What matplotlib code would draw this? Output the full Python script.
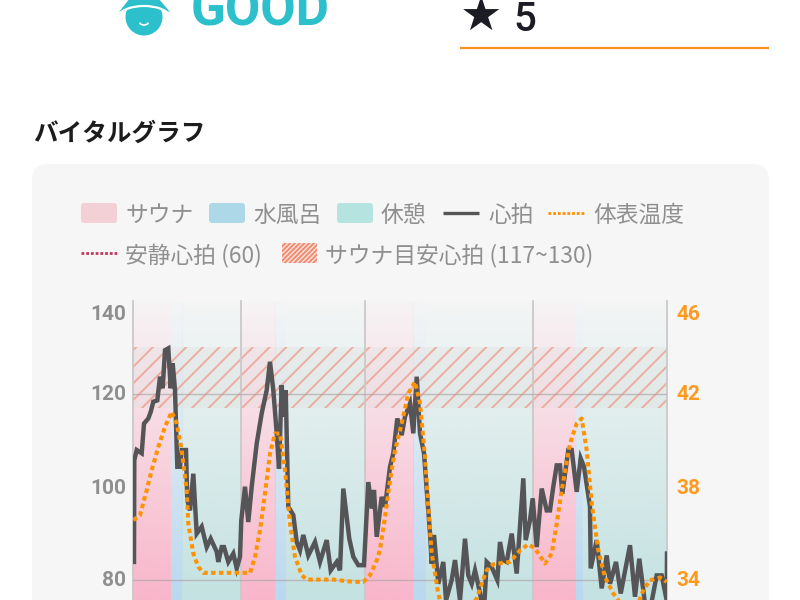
import numpy as np
import matplotlib
matplotlib.use('Agg')
import matplotlib.pyplot as plt
from matplotlib.colors import LinearSegmentedColormap
from matplotlib.patches import FancyBboxPatch, Rectangle, Circle, Polygon, Arc

plt.rcParams['font.family'] = ['Noto Sans CJK JP', 'DejaVu Sans']
plt.rcParams['hatch.linewidth'] = 1.4

# (time, bpm)
hr = [(1, 83.8), (1.3, 105.7), (3.7, 107.9), (8.7, 107.2), (11, 113.6), (15.3, 114.7), (17.7, 116.1), (20.3, 118.3), (24.3, 118.6),
      (27, 123.7), (29.7, 121.2), (32, 129.4), (35.3, 129.8), (37.7, 121.2), (39.7, 126.6), (42, 120.8), (44.3, 104.3), (47, 104.3),
      (48.7, 107.9), (53, 107.9), (54.3, 97.1), (57, 94.9), (60.3, 102.8), (63.7, 89.9), (68.7, 91.4), (73.7, 87), (77.7, 88.8),
      (83.7, 86), (85.3, 83.8), (88.7, 87), (91, 87), (95.3, 83.8), (100.3, 85.6), (103.7, 82.4), (107, 84.9),
      (108.3, 92.8), (112, 100), (115.3, 92.4), (118.7, 100), (123.7, 109.3), (128.7, 115.8), (133.7, 120.8), (137, 126.9),
      (140.3, 120.8), (143.7, 111.5), (146, 103.9), (148.7, 121.9), (150.3, 115.1), (152.7, 120.8), (155.3, 95.7), (160.3, 93.9),
      (163.7, 88.1), (167, 86.3), (170.3, 89.6), (175.3, 85.2), (182, 88.1), (187, 83.8), (193.7, 88.5), (197.7, 82), (203.7, 83.8),
      (207, 82), (210.3, 99.6), (213.7, 93.5), (216.3, 88.8), (220.3, 84.9), (225.3, 83.1), (231, 83.1),
      (235.3, 101), (238.7, 95.3), (241, 99.3), (243.7, 89.2), (248.7, 97.8), (252, 95.7), (257, 104.3), (260.3, 107.2),
      (264.3, 114.7), (268.7, 111.1), (272, 115.1), (277, 117.9), (280.3, 111.5), (283.7, 123.7), (287, 111.5), (291, 107.2),
      (293.7, 99.3), (297, 89.9), (298.7, 83.4), (301, 89.6), (305.3, 79.1), (310.3, 83.8), (313, 75.5), (318.7, 79.9), (322, 84.2),
      (327, 75.5), (332, 88.8), (335.3, 80.9), (338.7, 79.1), (342, 82), (345.3, 78.8), (348.7, 75.2), (351, 73.4), (353.7, 83.8),
      (358.7, 82.7), (364.3, 79.9), (367, 88.1), (370.3, 84.2), (373.7, 83.8), (378.7, 89.9), (383.7, 81.3), (390.3, 101.8),
      (392.7, 88.5), (397, 92.8), (399.7, 97.5), (403.7, 87), (408.7, 99.6), (413.7, 94.9), (417, 94.9), (420.3, 100), (423.7, 104.6),
      (427, 104.6), (429.3, 98.5), (435.3, 107.9), (438.7, 107.9), (443.7, 98.9), (447.7, 106.1), (451, 104.3), (457, 95.7),
      (457.7, 82.4), (463.7, 88.5), (468.7, 78.1), (473.7, 85.2), (477, 79.1), (483, 83.8), (487.7, 77), (497, 87.4), (502, 76.3),
      (506.3, 84.5), (512, 74.8), (517, 73.4), (523.7, 80.9), (528.7, 80.9), (533.7, 75.5), (534, 85.6)]

# (time, deg C)
temp = [(0.3, 36.56), (7, 36.77), (13.7, 37.85), (18.7, 38.71), (25.3, 39.72), (32, 40.58), (38.7, 41.23), (43.7, 40.72), (48.7, 39.57),
        (53.7, 37.85), (55.3, 36.41), (60.3, 35.12), (65.3, 34.55), (70.3, 34.29), (80.3, 34.29), (117, 34.29), (122, 34.98), (127, 36.13),
        (132, 37.71), (137, 39.43), (142, 40.29), (147, 40.29), (152, 38.71), (157, 36.41), (162, 34.98), (168.7, 34.19), (173.7, 34),
        (200.3, 34), (220.3, 33.9), (230.3, 33.9), (237, 34.19), (243.7, 34.83), (247, 35.3), (252, 36.7), (257, 38.28), (262, 39.57),
        (268.7, 40.72), (275.3, 42.02), (282, 42.52), (287, 41.59), (292, 39.29), (295.3, 37.13), (298.7, 35.12), (305.3, 33.4), (308.7, 32.8),
        (337, 32.8), (343.7, 33.18), (348.7, 33.83), (353.7, 34.4), (360.3, 34.66), (377, 34.76), (387, 35.26), (395.3, 35.52), (402, 35.34),
        (412, 34.69), (418.7, 35.12), (423.7, 36.41), (428.7, 37.85), (437, 39.86), (443.7, 40.72), (448.7, 40.94), (453.7, 39.57), (458.7, 37.28),
        (465.3, 35.26), (472, 34.11), (480.3, 33.4), (490.3, 32.8), (503.7, 32.8), (510.3, 33.54), (517, 33.97), (527, 34.09), (533.7, 33.9)]

# session boundaries
bounds = [0, 107.5, 231.5, 400, 534]
sauna = [(0, 37.5), (107.5, 142), (231.5, 280), (400, 443)]
water = [(37.5, 49), (142, 153), (280, 293), (443, 450)]
rest = [(49, 107.5), (153, 231.5), (293, 400), (450, 534)]
left_ticks = ['140', '120', '100', '80']
right_ticks = ['46', '42', '38', '34']
tick_pos = [314, 395, 488, 581]

fig = plt.figure(figsize=(8, 6), dpi=100)
bg = fig.add_axes([0, 0, 1, 1])
bg.set_xlim(0, 800)
bg.set_ylim(600, 0)
bg.axis('off')

# card
bg.add_patch(FancyBboxPatch((46, 178), 709, 500, boxstyle='round,pad=14,rounding_size=16', fc='#f6f6f6', ec='none'))

# head part
teal = '#2bc0cb'
bg.add_patch(Circle((144, 17), 18.5, fc=teal, ec='none'))
bg.add_patch(Polygon([[130, -2], [158, -2], [170, 12], [144, 5], [119, 12]], fc=teal, ec='none'))
bg.add_patch(Arc((144, 19), 54, 26, theta1=190, theta2=350, color='white', lw=1.6))
bg.add_patch(Arc((144, 21), 10, 8, theta1=20, theta2=160, color='white', lw=1.2))
bg.text(191, 25, 'GOOD', color=teal, fontsize=37, fontweight='bold', family=['Roboto'], va='baseline')
bg.text(460, 31, '★', color='#1c1c24', fontsize=34, family=['DejaVu Sans'], va='baseline')
bg.text(513, 31, '5', color='#1c1c24', fontsize=29, family=['Roboto'], fontweight='medium', va='baseline')
bg.plot([460, 769], [48, 48], color='#ff8f1f', lw=1.6, solid_capstyle='butt')
bg.text(33, 141, 'バイタルグラフ', color='#1c1c1c', fontsize=17.7, fontweight='bold', va='baseline')

# legend row by row
grey = '#8f8f8f'
lf = 16.4
bg.add_patch(FancyBboxPatch((83, 205), 32, 16, boxstyle='round,pad=2,rounding_size=3', fc='#f3d0d6', ec='none'))
bg.text(125, 222, 'サウナ', color=grey, fontsize=lf, va='baseline')
bg.add_patch(FancyBboxPatch((211, 205), 32, 16, boxstyle='round,pad=2,rounding_size=3', fc='#add8e8', ec='none'))
bg.text(253, 222, '水風呂', color=grey, fontsize=lf, va='baseline')
bg.add_patch(FancyBboxPatch((339, 205), 32, 16, boxstyle='round,pad=2,rounding_size=3', fc='#b5e4e0', ec='none'))
bg.text(381, 222, '休憩', color=grey, fontsize=lf, va='baseline')
bg.plot([443, 479], [212.5, 212.5], color='#555555', lw=2.4, solid_capstyle='butt')
bg.text(488, 222, '心拍', color=grey, fontsize=lf, va='baseline')
bg.plot([548, 584], [212.5, 212.5], color='#ff8f00', lw=2, ls=(0, (1, 0.7)))
bg.text(593, 222, '体表温度', color=grey, fontsize=lf, va='baseline')
bg.plot([81, 117], [253, 253], color='#c0395e', lw=2, ls=(0, (1, 0.7)))
bg.text(125, 262, '安静心拍 (60)', color=grey, fontsize=lf, va='baseline')
bg.add_patch(Rectangle((282, 243), 35, 20, fc='#fbe5df', ec='none'))
bg.add_patch(Rectangle((282, 243), 35, 20, fc='none', ec='#f08a70', hatch='///////', lw=0))
bg.text(325, 262, 'サウナ目安心拍 (117~130)', color=grey, fontsize=lf, va='baseline')

# chart axes run past the bottom of the picture, the reference is cut there
ax = fig.add_axes([133 / 800, 0, 534 / 800, 299 / 600])
ax.patch.set_alpha(0)
ax2 = ax.twinx()
ax2.patch.set_alpha(0)


def gradient(spans, color):
    cmap = LinearSegmentedColormap.from_list('g', [color + '00', color + 'ff'])
    grad = np.linspace(0.04, 1, 256).reshape(-1, 1)
    for a, b in spans:
        ax.imshow(grad, extent=[a, b, 75.6, 140], cmap=cmap, vmin=0, vmax=1, aspect='auto', zorder=1, interpolation='bilinear')


gradient(sauna, '#f9b6cb')
gradient(water, '#bad8ef')
gradient(rest, '#c3e2e1')

ax.fill_between([0, 534], 117, 130, facecolor='#dddddd', alpha=0.3, lw=0, zorder=2)
ax.fill_between([0, 534], 117, 130, facecolor='none', edgecolor='#ee9580', hatch='//', lw=0, alpha=0.7, zorder=2)

for b in bounds:
    ax.axvline(b, color='#c9c9c9', lw=1.3, zorder=2, clip_on=False)
for v in [80, 120]:
    ax.axhline(v, color='#b0a5a8', lw=1, alpha=0.7, zorder=2)

hr = np.array(hr)
temp = np.array(temp)
ax.plot(hr[:, 0], hr[:, 1], color='#555558', lw=3.2, zorder=3, solid_joinstyle='miter')
ax2.plot(temp[:, 0], temp[:, 1], color='#ff9200', lw=2.9, ls=(0, (1.1, 0.85)), zorder=4)

ax.set_xlim(0, 534)
ax.set_ylim(75.6, 140)
ax2.set_ylim(33.12, 46)
for s in ['top', 'right', 'left', 'bottom']:
    ax.spines[s].set_visible(False)
    ax2.spines[s].set_visible(False)
ax.set_xticks([])
ax.set_yticks([])
ax2.set_yticks([])

# the top label sits lower than its value, as in the app
for lab, py in zip(left_ticks, tick_pos):
    bg.text(126, py, lab, color=grey, fontsize=15, fontweight='bold', family=['Roboto'], ha='right', va='center')
for lab, py in zip(right_ticks, tick_pos):
    bg.text(676, py, lab, color='#ff9a1f', fontsize=15, fontweight='bold', family=['Roboto'], ha='left', va='center')

fig.savefig('out.png', dpi=100)
